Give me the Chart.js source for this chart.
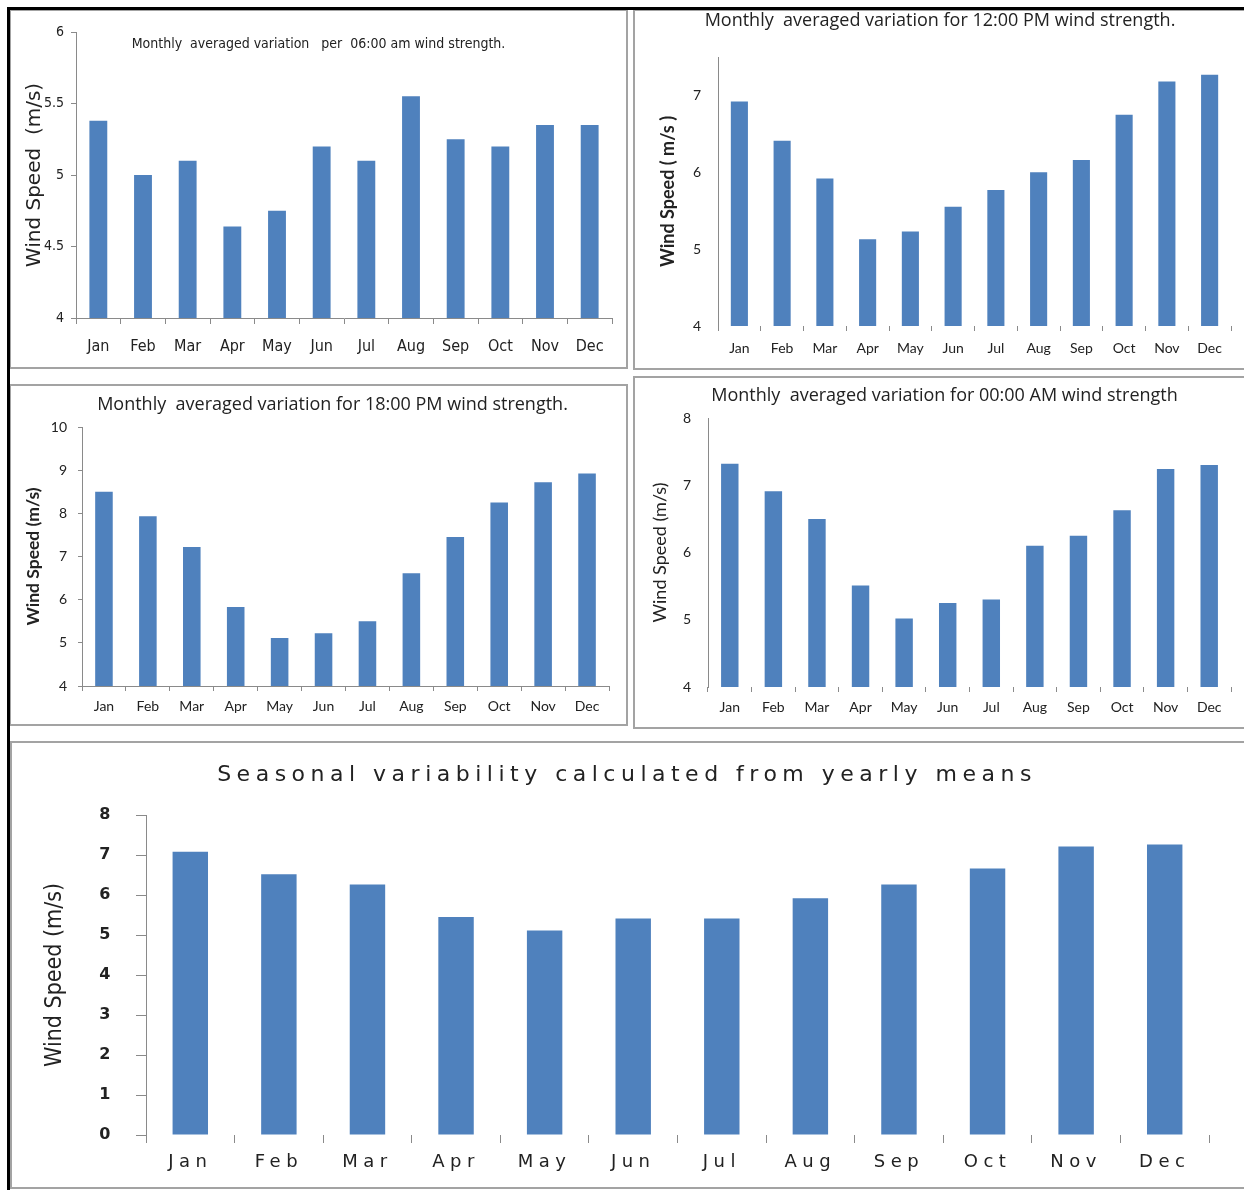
<!DOCTYPE html>
<html>
<head>
<meta charset="utf-8">
<script src="https://cdn.jsdelivr.net/npm/chart.js@4.4.1/dist/chart.umd.min.js"></script>
<style>
  body { margin: 0; background: #fff; width: 1244px; height: 1190px; position: relative; overflow: hidden; }
  .panel { position: absolute; box-sizing: border-box; border: 2px solid #a3a3a3; background: #fff; }
  .panel canvas { position: absolute; left: 0; top: 0; }
  .frame { position: absolute; left: 7px; top: 7px; width: 1260px; height: 1200px; border-left: 3px solid #000; border-top: 3px solid #000; z-index: 5; pointer-events: none; }
</style>
</head>
<body>
<div class="panel" style="left:9px; top:9px; width:619px; height:360px;"><canvas id="c0600" width="615" height="356"></canvas></div>
<div class="panel" style="left:633px; top:9px; width:640px; height:361px;"><canvas id="c1200" width="609" height="357"></canvas></div>
<div class="panel" style="left:9px; top:384px; width:619px; height:342px;"><canvas id="c1800" width="615" height="338"></canvas></div>
<div class="panel" style="left:633px; top:376px; width:640px; height:353px;"><canvas id="c0000" width="609" height="349"></canvas></div>
<div class="panel" style="left:10px; top:741px; width:1260px; height:448px;"><canvas id="cYear" width="1232" height="444"></canvas></div>
<div class="frame"></div>
<script>
// Monthly averaged wind speed (m/s)
const months = ['Jan', 'Feb', 'Mar', 'Apr', 'May', 'Jun', 'Jul', 'Aug', 'Sep', 'Oct', 'Nov', 'Dec'];
const wind0600 = [5.38, 5.0, 5.1, 4.64, 4.75, 5.2, 5.1, 5.55, 5.25, 5.2, 5.35, 5.35];
const wind1200 = [6.92, 6.41, 5.92, 5.13, 5.23, 5.55, 5.77, 6.0, 6.16, 6.75, 7.18, 7.27];
const wind1800 = [8.5, 7.93, 7.22, 5.83, 5.11, 5.22, 5.5, 6.61, 7.45, 8.25, 8.72, 8.92];
const wind0000 = [7.32, 6.91, 6.5, 5.51, 5.02, 5.25, 5.3, 6.1, 6.25, 6.63, 7.24, 7.3];
const windYearly = [7.08, 6.52, 6.26, 5.45, 5.11, 5.41, 5.41, 5.92, 6.26, 6.66, 7.21, 7.26];

// y tick labels for each chart
const ticks0600 = [4, 4.5, 5, 5.5, 6];
const ticks1200 = [4, 5, 6, 7];
const ticks1800 = [4, 5, 6, 7, 8, 9, 10];
const ticks0000 = [4, 5, 6, 7, 8];
const ticksYearly = [0, 1, 2, 3, 4, 5, 6, 7, 8];

const barColor = '#4f81bd';
const axisGrey = '#8a8a8a';
const textColor = '#222';
const narrow = '"Liberation Sans Narrow", "DejaVu Sans Condensed", sans-serif';

// move the title sideways without changing the plot area
const shiftTitle = {
    id: 'shiftTitle',
    afterLayout(chart, args, opts) {
        const t = chart.titleBlock;
        if (t && opts.dx) {
            t.left += opts.dx;
            t.right += opts.dx;
        }
    }
};

// letter spacing for the wide bottom chart (y axis title left without it)
const spacing = {
    id: 'spacing',
    beforeUpdate(chart, args, opts) { chart.ctx.letterSpacing = (opts.px || 0) + 'px'; },
    beforeLayout(chart, args, opts) { chart.ctx.letterSpacing = (opts.px || 0) + 'px'; },
    afterLayout(chart, args, opts) {
        const y = chart.scales.y;
        if (opts.px && !y._plainTitle) {
            const orig = y.drawTitle;
            y.drawTitle = function () {
                const ls = this.ctx.letterSpacing;
                this.ctx.letterSpacing = '0px';
                orig.call(this);
                this.ctx.letterSpacing = ls;
            };
            y._plainTitle = true;
        }
    },
    beforeDraw(chart, args, opts) { chart.ctx.letterSpacing = (opts.px || 0) + 'px'; }
};

function makeChart(id, cfg) {
    return new Chart(document.getElementById(id), {
        type: 'bar',
        data: {
            labels: months,
            datasets: [{
                data: cfg.values,
                backgroundColor: barColor,
                barPercentage: 0.4,
                categoryPercentage: 1
            }]
        },
        options: {
            responsive: false,
            animation: false,
            layout: { padding: { left: 0, right: cfg.padRight, top: 0, bottom: 0 } },
            plugins: {
                legend: { display: false },
                tooltip: { enabled: false },
                title: {
                    display: true,
                    text: cfg.title,
                    color: textColor,
                    font: Object.assign({ weight: 'normal', lineHeight: 1 }, cfg.titleFont),
                    padding: cfg.titlePad
                },
                shiftTitle: { dx: cfg.titleDx || 0 },
                spacing: { px: cfg.spacing || 0 }
            },
            scales: {
                x: {
                    offset: true,
                    grid: { offset: true, drawOnChartArea: false, drawTicks: true, tickLength: cfg.xTick, color: axisGrey },
                    border: { display: cfg.xLine, color: axisGrey },
                    ticks: { font: cfg.xFont, color: textColor, padding: cfg.xPad, autoSkip: false, maxRotation: 0 },
                    afterFit: s => { s.height = cfg.xHeight; }
                },
                y: {
                    min: cfg.min,
                    max: cfg.max,
                    afterBuildTicks: s => { s.ticks = cfg.ticks.map(v => ({ value: v })); },
                    grid: { drawOnChartArea: false, drawTicks: cfg.yTick > 0, tickLength: cfg.yTick, color: axisGrey },
                    border: { display: true, color: axisGrey },
                    ticks: { font: cfg.yFont, color: textColor, padding: cfg.yPad, callback: v => String(v) },
                    title: {
                        display: true,
                        text: cfg.yTitle,
                        color: textColor,
                        font: Object.assign({ lineHeight: 1 }, cfg.yTitleFont),
                        padding: { top: cfg.yTitlePad, bottom: 0 }
                    },
                    afterFit: s => { s.width = cfg.yWidth; }
                }
            }
        },
        plugins: [shiftTitle, spacing]
    });
}

makeChart('c0600', {
    values: wind0600, ticks: ticks0600, min: 4, max: 6,
    title: 'Monthly  averaged variation   per  06:00 am wind strength.',
    titleFont: { family: narrow, size: 14 },
    titlePad: { top: 26, bottom: -19 }, titleDx: 7,
    padRight: 14, yWidth: 65, xHeight: 49,
    yFont: { family: narrow, size: 14, lineHeight: 1 }, yTick: 5, yPad: 7,
    yTitle: 'Wind Speed  (m/s)', yTitleFont: { family: 'DejaVu Sans', size: 20 }, yTitlePad: 14,
    xFont: { family: narrow, size: 16, lineHeight: 1 }, xTick: 6, xPad: 15, xLine: true
});

makeChart('c1200', {
    values: wind1200, ticks: ticks1200, min: 4, max: 7.5,
    title: 'Monthly  averaged variation for 12:00 PM wind strength.',
    titleFont: { family: 'Open Sans', size: 18 },
    titlePad: { top: 1, bottom: 27 }, titleDx: 7,
    padRight: 13, yWidth: 83, xHeight: 42,
    yFont: { family: 'Lato', size: 14, lineHeight: 1 }, yTick: 0, yPad: 17,
    yTitle: 'Wind Speed ( m/s )', yTitleFont: { family: 'Lato', size: 18, weight: 'bold' }, yTitlePad: 24,
    xFont: { family: 'Lato', size: 14, lineHeight: 1 }, xTick: 5, xPad: 10, xLine: false
});

makeChart('c1800', {
    values: wind1800, ticks: ticks1800, min: 4, max: 10,
    title: 'Monthly  averaged variation for 18:00 PM wind strength.',
    titleFont: { family: 'Open Sans', size: 18 },
    titlePad: { top: 10, bottom: 13 }, titleDx: 22.5,
    padRight: 17, yWidth: 71, xHeight: 38,
    yFont: { family: 'Lato', size: 14, lineHeight: 1 }, yTick: 4, yPad: 11,
    yTitle: 'Wind Speed (m/s)', yTitleFont: { family: 'Lato', size: 17.5, weight: 'bold' }, yTitlePad: 13.25,
    xFont: { family: 'Lato', size: 14, lineHeight: 1 }, xTick: 5, xPad: 8, xLine: true
});

makeChart('c0000', {
    values: wind0000, ticks: ticks0000, min: 4, max: 8,
    title: 'Monthly  averaged variation for 00:00 AM wind strength',
    titleFont: { family: 'Open Sans', size: 18 },
    titlePad: { top: 9, bottom: 13 }, titleDx: 11.5,
    padRight: 13, yWidth: 73, xHeight: 40,
    yFont: { family: 'Lato', size: 14, lineHeight: 1 }, yTick: 0, yPad: 17,
    yTitle: 'Wind Speed (m/s)', yTitleFont: { family: 'Lato', size: 18 }, yTitlePad: 16,
    xFont: { family: 'Lato', size: 14, lineHeight: 1 }, xTick: 5, xPad: 8, xLine: false
});

makeChart('cYear', {
    values: windYearly, ticks: ticksYearly, min: 0, max: 8,
    title: 'Seasonal variability calculated from yearly means',
    titleFont: { family: 'DejaVu Sans', size: 22 },
    titlePad: { top: 21, bottom: 29 }, titleDx: 16.5, spacing: 5.5,
    padRight: 35, yWidth: 134, xHeight: 52,
    yFont: { family: 'DejaVu Sans', size: 16, weight: 'bold', lineHeight: 1 }, yTick: 10, yPad: 20,
    yTitle: 'Wind Speed (m/s)', yTitleFont: { family: narrow, size: 23 }, yTitlePad: 31.5,
    xFont: { family: 'DejaVu Sans', size: 18, lineHeight: 1 }, xTick: 8, xPad: 10, xLine: false
});
</script>
</body>
</html>
